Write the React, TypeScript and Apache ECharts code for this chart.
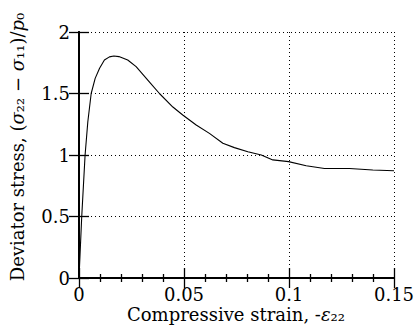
import React, { useEffect, useRef } from "react";
import * as echarts from "echarts";

const strain = [0, 0.0013, 0.0029, 0.0042, 0.0058, 0.0077, 0.0098, 0.0121, 0.0145, 0.0166, 0.019, 0.0232, 0.0272, 0.0307, 0.034, 0.0383, 0.0447, 0.0494, 0.0558, 0.0621, 0.0685, 0.074, 0.0804, 0.0868, 0.0923, 0.0998, 0.1082, 0.1169, 0.1288, 0.1399, 0.15];
const stress = [0, 0.5, 1.0, 1.27, 1.5, 1.623, 1.705, 1.772, 1.798, 1.805, 1.8, 1.772, 1.718, 1.65, 1.585, 1.5, 1.39, 1.325, 1.244, 1.176, 1.095, 1.06, 1.027, 1.0, 0.96, 0.946, 0.913, 0.89, 0.89, 0.878, 0.872];

const xTicks = { min: 0, max: 0.15, interval: 0.05 };
const yTicks = { min: 0, max: 2, interval: 0.5 };

const FONT = "DejaVu Serif";

export default function App() {
  const ref = useRef<HTMLDivElement>(null);
  useEffect(() => {
    if (!ref.current) return;
    const chart = echarts.init(ref.current, null, { renderer: "svg" });
    const data = strain.map((x, i) => [x, stress[i]]);
    const axisLine = { show: true, lineStyle: { color: "#000", width: 2 } };
    const splitLine = { show: true, lineStyle: { color: "#000", width: 1, type: [1, 3] as any } };
    const baseX = {
      type: "value" as const,
      min: xTicks.min,
      max: xTicks.max,
      interval: xTicks.interval,
      axisLine,
      axisTick: { show: true, inside: true, length: 10, lineStyle: { color: "#000", width: 1.3 } },
      minorTick: { show: true, splitNumber: 5, length: 4, lineStyle: { color: "#000", width: 1.3 } },
    };
    const baseY = {
      type: "value" as const,
      min: yTicks.min,
      max: yTicks.max,
      interval: yTicks.interval,
      axisLine,
      axisTick: { show: true, inside: true, length: 10, lineStyle: { color: "#000", width: 1.3 } },
    };
    const rich = {
      n: { fontFamily: FONT, fontSize: 18, lineHeight: 18, color: "#000" },
      i: { fontFamily: FONT, fontSize: 18, lineHeight: 18, fontStyle: "italic", color: "#000" },
    };
    chart.setOption({
      animation: false,
      textStyle: { fontFamily: FONT },
      grid: { left: 79, right: 26, top: 32, bottom: 52 },
      xAxis: [
        {
          ...baseX,
          position: "bottom",
          axisLabel: { show: true, color: "#000", fontFamily: FONT, fontSize: 18, lineHeight: 15, margin: 9 },
          splitLine,
        },
        {
          ...baseX,
          position: "top",
          axisLabel: { show: false },
          splitLine: { show: false },
        },
      ],
      yAxis: [
        {
          ...baseY,
          position: "left",
          axisLabel: { show: true, color: "#000", fontFamily: FONT, fontSize: 18, margin: 9 },
          splitLine,
        },
        {
          ...baseY,
          position: "right",
          axisLabel: { show: false },
          splitLine: { show: false },
        },
      ],
      graphic: [
        {
          type: "text",
          x: 236,
          y: 314,
          style: {
            text: "{n|Compressive strain, -}{i|ε}{n|₂₂}",
            rich,
            align: "center",
            verticalAlign: "middle",
          },
        },
        {
          type: "text",
          x: 17,
          y: 147,
          rotation: Math.PI / 2,
          style: {
            text: "{n|Deviator stress, (}{i|σ}{n|₂₂ − }{i|σ}{n|₁₁)/}{i|p}{n|₀}",
            rich,
            align: "center",
            verticalAlign: "middle",
          },
        },
      ],
      series: [
        {
          type: "line",
          data,
          xAxisIndex: 0,
          yAxisIndex: 0,
          showSymbol: false,
          smooth: false,
          lineStyle: { color: "#000", width: 1.1 },
          silent: true,
        },
      ],
    });
    return () => chart.dispose();
  }, []);
  return (
    <div
      ref={ref}
      style={{ position: "fixed", left: 0, top: 0, width: 420, height: 330, background: "#fff" }}
    />
  );
}
